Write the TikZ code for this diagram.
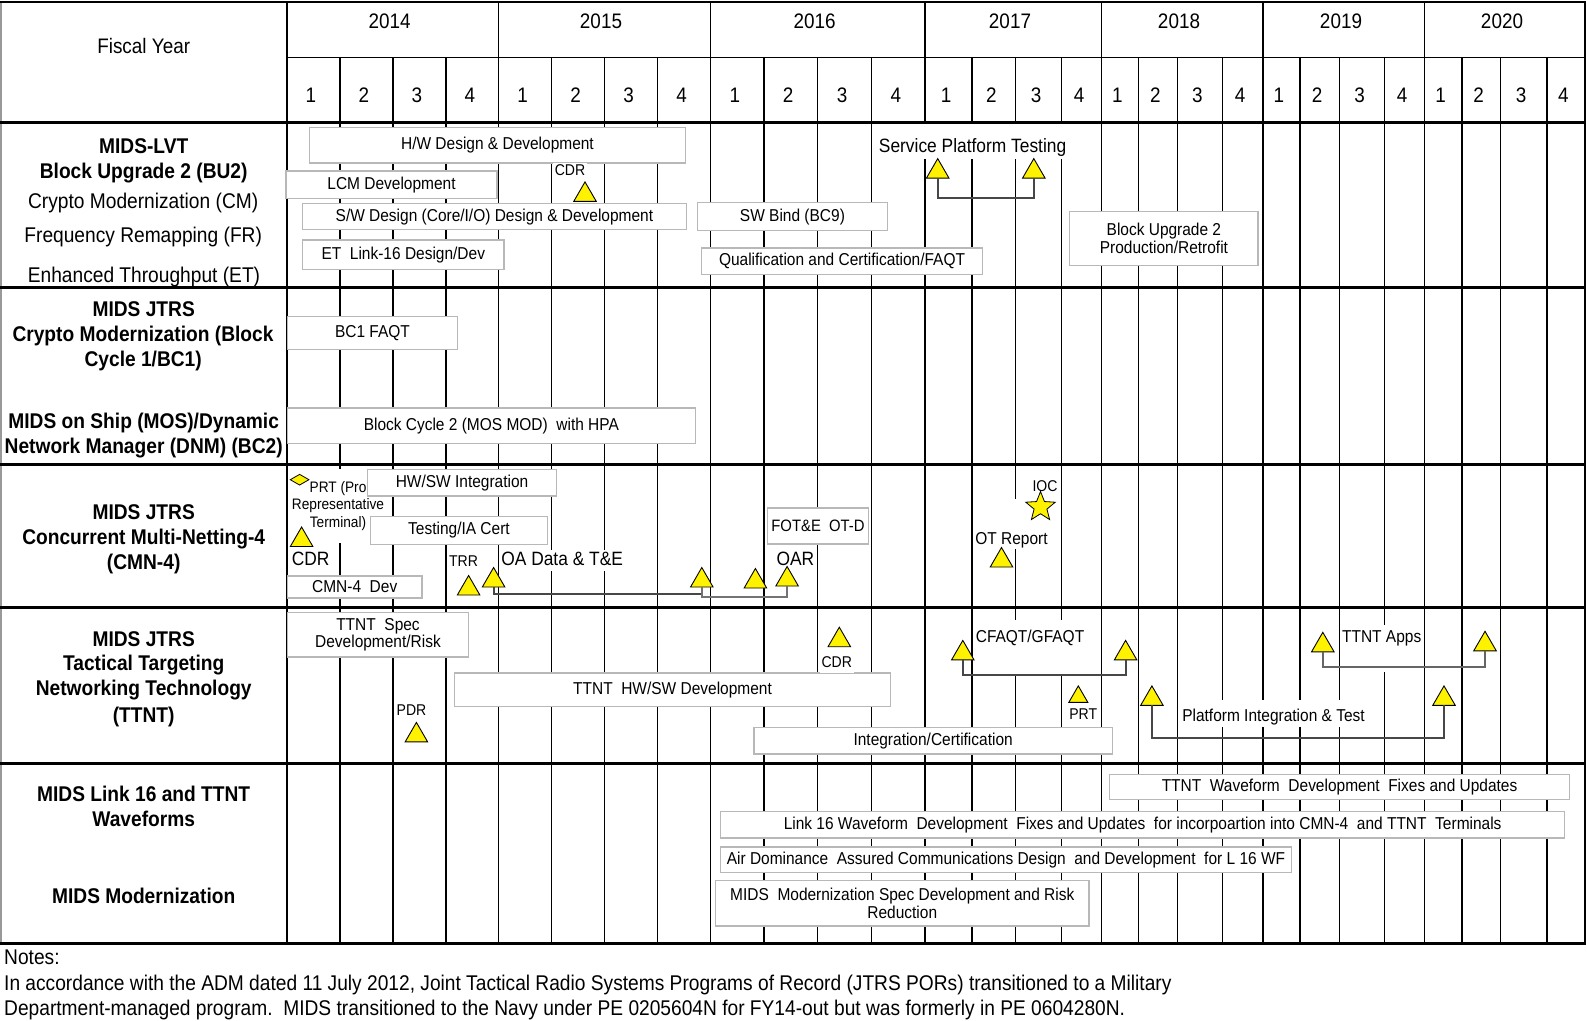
\documentclass[tikz,border=0pt]{standalone}
\usepackage{fontspec}
\setmainfont{Liberation Sans}[FakeStretch=0.9]
\usetikzlibrary{shapes.geometric}
\newcommand\myfs[1]{\fontsize{#1}{#1}\selectfont}
\newcommand\barnode[6]{\node[barbox,minimum width=#4pt-#2pt,minimum height=#5pt-#3pt] (#1) at ({(#2+#4)/2},{(#3+#5)/2}) {#6};}
\tikzset{
 vgrid/.style={line width=1.4pt,draw=black},
 hsep/.style={line width=2.6pt,draw=black},
 barbox/.style={draw=black!28,line width=1.3pt,fill=white,inner sep=1pt,align=center,font=\fontsize{17.2}{17.6}\selectfont},
 rowlab/.style={inner sep=0pt,text height=15.3pt,text depth=0pt,font=\myfs{21.3}},
 rowlabb/.style={rowlab,font=\bfseries\myfs{21.3}},
 hdr/.style={inner sep=0pt,text height=15.1pt,text depth=0pt,font=\myfs{21}},
 tls/.style={fill=white,inner sep=1.5pt,font=\myfs{15.6},text height=11.2pt,text depth=3.3pt},
 tlm/.style={fill=white,inner sep=1.5pt,font=\myfs{17.2},text height=12.4pt,text depth=3.6pt},
 tll/.style={fill=white,inner sep=1.5pt,font=\myfs{19.3},text height=13.9pt,text depth=4.1pt},
 tri/.style={regular polygon,regular polygon sides=3,draw=black,line width=0.9pt,fill=yellow,minimum size=26pt,inner sep=0pt,outer sep=0pt},
 conn/.style={line width=2pt,draw=black!72},
}
\begin{document}
\begin{tikzpicture}[x=1pt,y=-1pt]
\useasboundingbox (0,0) rectangle (1587,1020);
\fill[white] (0,0) rectangle (1587,1020);
% vertical grid
\foreach \x in {340,393,446,551.5,604.6,657.7,763.8,817.6,871.6,972,1015.7,1061.5,1138.2,1177.3,1222.6,1299.8,1339.4,1384.7,1461.9,1500.5,1546.8}
  \draw[vgrid] (\x,57.7) -- (\x,943.3);
\foreach \x in {287,498.5,710.7,925,1101.7,1262.8,1424.4,1585}
  \draw[vgrid] (\x,2) -- (\x,943.3);
\draw[line width=1.4pt,draw=black!40] (1,2) -- (1,943.3);
% header text
\node[hdr] (fy) at (143.7,45.5) {Fiscal Year};
\foreach \xx/\yy [count=\i] in {389.7/2014,601/2015,814.7/2016,1010/2017,1179/2018,1341/2019,1502/2020}
  \node[hdr] (yr\i) at (\xx,21.3) {\yy};
\foreach \a/\b/\n [count=\i] in {287/340/1,340/393/2,393/446/3,446/498.5/4,498.5/551.5/1,551.5/604.6/2,604.6/657.7/3,657.7/710.7/4,710.7/763.8/1,763.8/817.6/2,817.6/871.6/3,871.6/925/4,925/972/1,972/1015.7/2,1015.7/1061.5/3,1061.5/1101.7/4,1101.7/1138.2/1,1138.2/1177.3/2,1177.3/1222.6/3,1222.6/1262.8/4,1262.8/1299.8/1,1299.8/1339.4/2,1339.4/1384.7/3,1384.7/1424.4/4,1424.4/1461.9/1,1461.9/1500.5/2,1500.5/1546.8/3,1546.8/1585/4}
  \node[hdr] (q\i) at ({(\a+\b)/2-2.5},95) {\n};
% row labels
\node[rowlabb] (l1) at (143.7,145.7) {MIDS-LVT};
\node[rowlabb] (l2) at (143.7,171) {Block Upgrade 2 (BU2)};
\node[rowlab] (l3) at (143.2,200.4) {Crypto Modernization (CM)};
\node[rowlab] (l4) at (143.2,234.8) {Frequency Remapping (FR)};
\node[rowlab] (l5) at (144,275.3) {Enhanced Throughput (ET)};
\node[rowlabb] (l6) at (143.7,308.7) {MIDS JTRS};
\node[rowlabb] (l7) at (143,334) {Crypto Modernization (Block};
\node[rowlabb] (l8) at (143.2,359.3) {Cycle 1/BC1)};
\node[rowlabb] (l9) at (143.7,421) {MIDS on Ship (MOS)/Dynamic};
\node[rowlabb] (l10) at (143.7,446.3) {Network Manager (DNM) (BC2)};
\node[rowlabb] (l11) at (143.7,512.1) {MIDS JTRS};
\node[rowlabb] (l12) at (143.7,536.4) {Concurrent Multi-Netting-4};
\node[rowlabb] (l13) at (143.7,561.7) {(CMN-4)};
\node[rowlabb] (l14) at (143.7,638.6) {MIDS JTRS};
\node[rowlabb] (l15) at (143.7,663) {Tactical Targeting};
\node[rowlabb] (l16) at (143.7,688.2) {Networking Technology};
\node[rowlabb] (l17) at (143.7,714.5) {(TTNT)};
\node[rowlabb] (l18) at (143.7,793.5) {MIDS Link 16 and TTNT};
\node[rowlabb] (l19) at (143.7,818.8) {Waveforms};
\node[rowlabb] (l20) at (143.7,895.7) {MIDS Modernization};
% PRT text block (under boxes)
\node[fill=white,inner xsep=1pt,inner ysep=12pt,align=center,font=\fontsize{15.2}{17.7}\selectfont] (prtb) at (338,506) {PRT (Pro\\Representative\\Terminal)};
% bars
\barnode{b1}{309.7}{127.5}{685.2}{163}{H/W Design \& Development}
\barnode{b2}{286}{171}{497}{198.4}{LCM Development}
\barnode{b3}{302.6}{203.4}{686.2}{229.7}{S/W Design (Core/I/O) Design \& Development}
\barnode{b4}{302.6}{239.9}{504}{269.2}{ET\ \ Link-16 Design/Dev}
\barnode{b5}{697.3}{202.4}{887.6}{230.8}{SW Bind (BC9)}
\barnode{b6}{701.4}{248}{982.7}{274.3}{Qualification and Certification/FAQT}
\barnode{b7}{1069.8}{211.5}{1258}{265.2}{Block Upgrade 2\\Production/Retrofit}
\barnode{b8}{287.4}{316.8}{457.5}{349.2}{BC1 FAQT}
\barnode{b9}{287.4}{407.9}{695.3}{443.3}{Block Cycle 2 (MOS MOD)\ \ with HPA}
\barnode{b10}{367.4}{469.6}{556.7}{495.9}{HW/SW\ Integration}
\barnode{b11}{370.4}{516.2}{547.5}{544.5}{Testing/IA Cert}
\barnode{b12}{287.4}{575.9}{422}{598.1}{CMN-4\ \ Dev}
\node[barbox,font=\myfs{16.5},minimum width=101.4pt,minimum height=36pt] (b13) at (818,526) {FOT\&E\ \ OT-D};
\barnode{b14}{287.4}{612.3}{468.6}{656.9}{TTNT\ \ Spec\\Development/Risk}
\barnode{b15}{454.4}{673}{890.6}{706.5}{TTNT\ \ HW/SW Development}
\barnode{b16}{754}{727.7}{1112.3}{754}{Integration/Certification}
\barnode{b17}{1109.3}{774.3}{1569.8}{799.6}{TTNT\ \ Waveform\ \ Development\ \ Fixes and Updates}
\barnode{b18}{720.6}{811.7}{1564.7}{838}{Link 16 Waveform\ \ Development\ \ Fixes and Updates\ \ for incorpoartion into CMN-4\ \ and TTNT\ \ Terminals}
\barnode{b19}{720.6}{847.1}{1291.4}{872.4}{Air Dominance\ \ Assured Communications Design\ \ and Development\ \ for L 16 WF}
\barnode{b20}{715.6}{880.5}{1089}{926}{MIDS\ \ Modernization Spec Development and Risk\\Reduction}
% timeline labels
\node[tls] (cdr1) at (570,172) {CDR};
\node[tll,anchor=base,text height=27.3pt,text depth=4.2pt] (spt) at (972.6,152.8) {Service Platform Testing};
\node[tll] (cdr3) at (310.7,560.7) {CDR};
\node[tls] (trr) at (463.5,562.7) {TRR};
\node[tll] (oad) at (562.2,560.7) {OA Data \& T\&E};
\node[tll] (oar) at (795.4,560.7) {OAR};
\node[tlm,anchor=base,text height=43.6pt,text depth=3.6pt] (otr) at (1011.5,544.1) {OT Report};
\node[tls] (iocl) at (1045,488) {IOC};
\node[tls] (pdr) at (411.5,711.5) {PDR};
\node[tls] (cdr4) at (836.8,664) {CDR};
\node[tlm,anchor=base,text height=21.2pt,text depth=29.8pt] (cfq) at (1030,642.7) {CFAQT/GFAQT};
\node[tls] (prtl) at (1083.2,715.6) {PRT};
\node[tlm,anchor=base,text height=20.3pt,text depth=3.7pt] (pit) at (1273.5,721.8) {Platform Integration \& Test};
\node[tlm,anchor=base,inner xsep=0.5pt,text height=16.3pt,text depth=27.7pt] (apps) at (1381.7,642.8) {TTNT Apps};
% markers
\node[diamond,draw=black,line width=0.8pt,fill=yellow,minimum width=19pt,minimum height=11pt,inner sep=0pt] (dia) at (299.6,479.7) {};
\node[star,star points=5,star point ratio=2.3,draw=black,line width=0.8pt,fill=yellow,minimum size=31pt,inner sep=0pt] (star) at (1040.5,507) {};
\node[tri] (tcdr1) at (585,194.9) {};
\node[tri] (tsp1) at (937.7,171.6) {};
\node[tri] (tsp2) at (1033.8,171.6) {};
\node[tri] (tcdr3) at (301.6,540) {};
\node[tri] (ttrr) at (468.6,588.5) {};
\node[tri] (toa1) at (493.6,580.5) {};
\node[tri] (toa2) at (701.8,580.5) {};
\node[tri] (toa3) at (755.4,581.5) {};
\node[tri] (toar) at (787.1,579.5) {};
\node[tri] (tot) at (1001.5,560.5) {};
\node[tri] (tpdr) at (416.4,735.4) {};
\node[tri] (tcdr4) at (839.3,640.2) {};
\node[tri] (tcf1) at (962.8,653.4) {};
\node[tri] (tcf2) at (1125.6,653.4) {};
\node[tri,minimum size=22pt] (tprt) at (1078.3,696.9) {};
\node[tri] (tpi1) at (1151.9,698.9) {};
\node[tri] (tpi2) at (1444,698.9) {};
\node[tri] (tap1) at (1322.8,645.3) {};
\node[tri] (tap2) at (1485,644.3) {};
% connectors
\coordinate (h1) at (0,198.4);
\coordinate (h2) at (0,594);
\coordinate (h3) at (0,596.5);
\coordinate (h4) at (0,675);
\coordinate (h5) at (0,737.8);
\coordinate (h6) at (0,667);
\draw[conn] (tsp1.south) -- (tsp1.south |- h1) -| (tsp2.south);
\draw[conn] (toa1.south) -- (toa1.south |- h2) -| (toa2.south);
\draw[conn,draw=black!55] (toa2.south) -- (toa2.south |- h3) -| (toar.south);
\draw[conn] (tcf1.south) -- (tcf1.south |- h4) -| (tcf2.south);
\draw[conn] (tpi1.south) -- (tpi1.south |- h5) -| (tpi2.south);
\draw[conn,draw=black!60] (tap1.south) -- (tap1.south |- h6) -| (tap2.south);
% horizontal lines
\draw[line width=2pt] (0,2) -- (1586,2);
\draw[vgrid] (287,57.7) -- (1585,57.7);
\foreach \y in {122.5,287.4,464.6,607.3,763.2,943.3}
  \draw[hsep] (0,\y) -- (1586,\y);
% notes
\node[anchor=base west,inner sep=0pt,font=\myfs{21.3}] (n1) at (4,964.5) {Notes:};
\node[anchor=base west,inner sep=0pt,font=\myfs{21.3}] (n2) at (4,990) {In accordance with the ADM dated 11 July 2012, Joint Tactical Radio Systems Programs of Record (JTRS PORs) transitioned to a Military};
\node[anchor=base west,inner sep=0pt,font=\myfs{21.3}] (n3) at (4,1015) {Department-managed program.\ \ MIDS transitioned to the Navy under PE 0205604N for FY14-out but was formerly in PE 0604280N.};
\end{tikzpicture}
\end{document}
